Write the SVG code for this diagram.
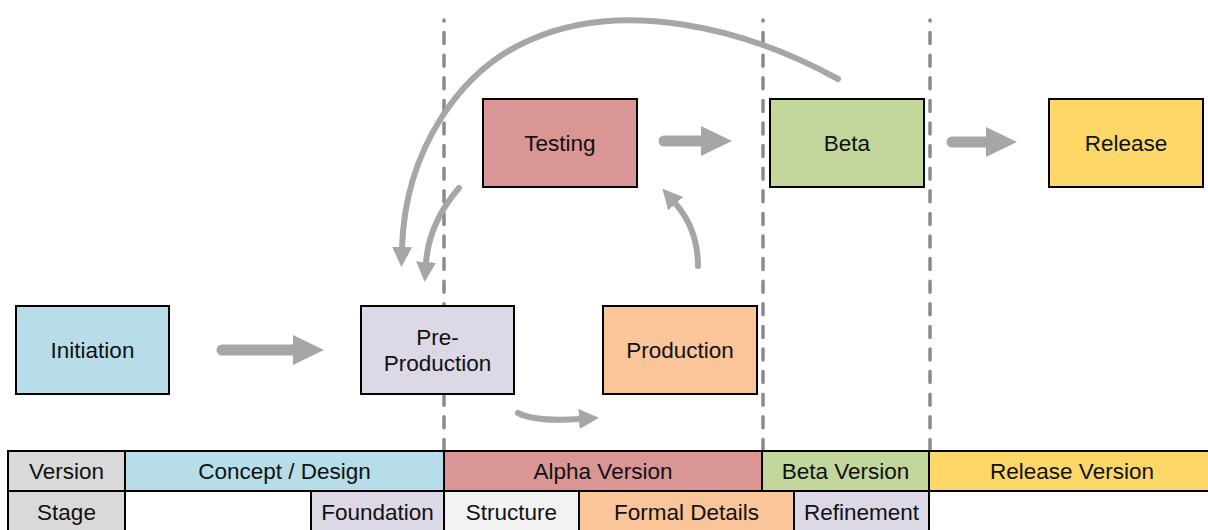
<svg xmlns="http://www.w3.org/2000/svg" width="1208" height="530" viewBox="0 0 1208 530">
  <defs>
    <style>
      .node rect { stroke: #000; stroke-width: 2; }
      .lbl { font-family: "Liberation Sans", Arial, sans-serif; font-size: 22.5px; fill: #111; text-anchor: middle; }
      .phase { stroke: #8a8a8a; stroke-width: 3.5; stroke-linecap: round; stroke-dasharray: 11 11.6; stroke-dashoffset: 10; fill: none; }
      .flow { stroke: #a6a6a6; stroke-width: 11; stroke-linecap: round; fill: none; marker-end: url(#bigHead); }
      .loop { stroke: #a6a6a6; stroke-width: 6; stroke-linecap: round; fill: none; marker-end: url(#smallHead); }
      .cell { stroke: #000; stroke-width: 2; }
    </style>
    <marker id="bigHead" markerUnits="userSpaceOnUse" viewBox="0 0 32 30" markerWidth="32" markerHeight="30" refX="1" refY="15" orient="auto">
      <path d="M0,0 L31,15 L0,30 z" fill="#a6a6a6"/>
    </marker>
    <marker id="smallHead" markerUnits="userSpaceOnUse" viewBox="0 0 21 20" markerWidth="21" markerHeight="20" refX="1" refY="10" orient="auto">
      <path d="M0,0 L20,10 L0,20 z" fill="#a6a6a6"/>
    </marker>
  </defs>

  <rect width="1208" height="530" fill="#fff"/>

  <!-- phase boundaries -->
  <g id="phase-lines">
    <line class="phase" x1="444" y1="20" x2="444" y2="451"/>
    <line class="phase" x1="763" y1="20" x2="763" y2="451"/>
    <line class="phase" x1="930" y1="20" x2="930" y2="451"/>
  </g>

  <!-- connectors -->
  <g id="connectors">
    <path class="flow" d="M222 350 L294 350"/>
    <path class="flow" d="M664 141 L702 141"/>
    <path class="flow" d="M952 142 L987 142"/>
    <path class="loop" d="M518 413 Q535 422 580 419"/>
    <path class="loop" d="M698 266 C698 240 690 220 675 203"/>
    <path class="loop" d="M459 188 C440 210 428 235 426 263"/>
    <path class="loop" d="M838 79 C740 25 620 0 530 40 C460 70 405 150 402 248"/>
  </g>

  <!-- process nodes -->
  <g id="initiation" class="node">
    <rect x="16" y="306" width="153" height="88" fill="#b7dde8"/>
    <text class="lbl" x="92.5" y="358">Initiation</text>
  </g>
  <g id="pre-production" class="node">
    <rect x="361" y="306" width="153" height="88" fill="#ddd8e6"/>
    <text class="lbl" x="437.5" y="345">Pre-</text>
    <text class="lbl" x="437.5" y="371">Production</text>
  </g>
  <g id="production" class="node">
    <rect x="603" y="306" width="154" height="88" fill="#fac598"/>
    <text class="lbl" x="680" y="358">Production</text>
  </g>
  <g id="testing" class="node">
    <rect x="483" y="99" width="154" height="88" fill="#d99694"/>
    <text class="lbl" x="560" y="151">Testing</text>
  </g>
  <g id="beta" class="node">
    <rect x="770" y="99" width="154" height="88" fill="#c3d69b"/>
    <text class="lbl" x="847" y="151">Beta</text>
  </g>
  <g id="release" class="node">
    <rect x="1049" y="99" width="154" height="88" fill="#fdd868"/>
    <text class="lbl" x="1126" y="151">Release</text>
  </g>

  <!-- version / stage table -->
  <g id="version-row">
    <rect class="cell" x="8" y="451" width="117" height="40" fill="#d9d9d9"/>
    <rect class="cell" x="125" y="451" width="319" height="40" fill="#b7dde8"/>
    <rect class="cell" x="444" y="451" width="318" height="40" fill="#d99694"/>
    <rect class="cell" x="762" y="451" width="167" height="40" fill="#c3d69b"/>
    <rect class="cell" x="929" y="451" width="290" height="40" fill="#fdd868"/>
    <text class="lbl" x="66.5" y="479">Version</text>
    <text class="lbl" x="284.5" y="479">Concept / Design</text>
    <text class="lbl" x="603" y="479">Alpha Version</text>
    <text class="lbl" x="845.5" y="479">Beta Version</text>
    <text class="lbl" x="1072" y="479">Release Version</text>
  </g>
  <g id="stage-row">
    <rect class="cell" x="8" y="491" width="117" height="45" fill="#d9d9d9"/>
    <rect class="cell" x="125" y="491" width="186" height="45" fill="#fff"/>
    <rect class="cell" x="311" y="491" width="133" height="45" fill="#ddd8e6"/>
    <rect class="cell" x="444" y="491" width="135" height="45" fill="#f2f2f2"/>
    <rect class="cell" x="579" y="491" width="215" height="45" fill="#fac598"/>
    <rect class="cell" x="794" y="491" width="135" height="45" fill="#ddd8e6"/>
    <text class="lbl" x="66.5" y="520">Stage</text>
    <text class="lbl" x="377.5" y="520">Foundation</text>
    <text class="lbl" x="511.5" y="520">Structure</text>
    <text class="lbl" x="686.5" y="520">Formal Details</text>
    <text class="lbl" x="861.5" y="520">Refinement</text>
  </g>
</svg>
